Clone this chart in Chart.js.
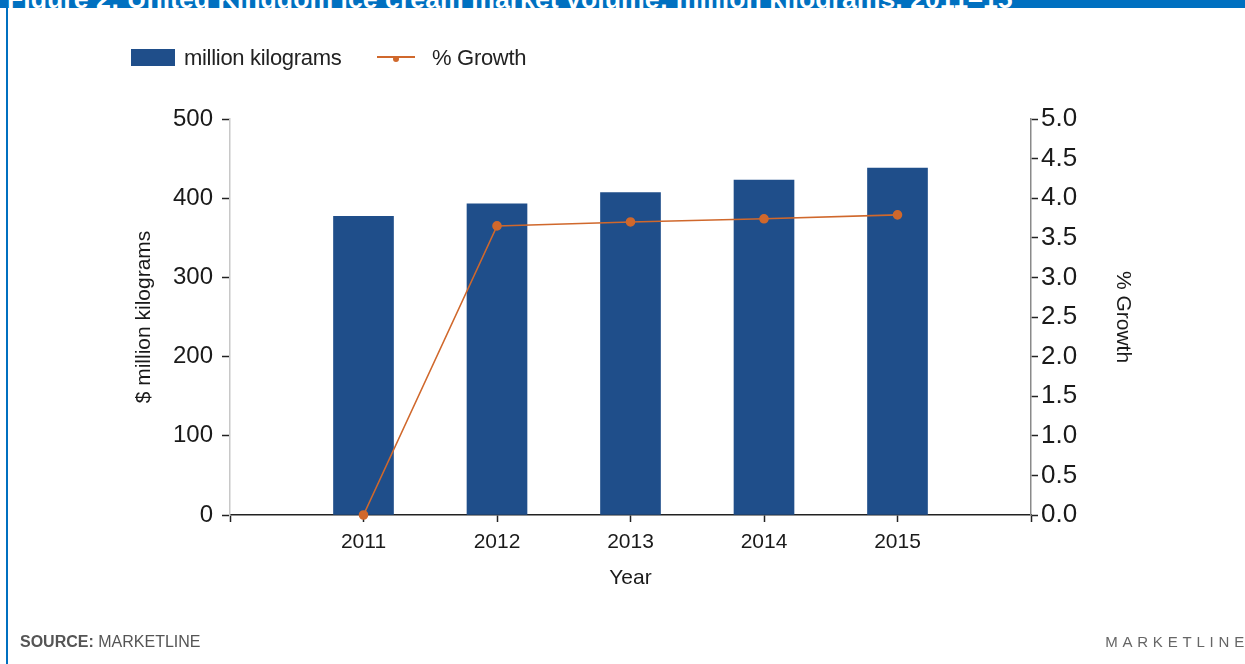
<!DOCTYPE html>
<html>
<head>
<meta charset="utf-8">
<script src="https://cdn.jsdelivr.net/npm/chart.js@4"></script>
<style>
  body { margin: 0; background: #fff; font-family: "Liberation Sans", Arial, sans-serif; }
  #page { position: relative; width: 1245px; height: 664px; overflow: hidden; }
  #topbar { position: absolute; left: 0; top: 0; width: 1245px; height: 8px; background: #0070c0; overflow: hidden; }
  #topbar span { position: absolute; left: 7px; top: -14px; color: #fff; font-weight: bold; font-size: 26.7px; line-height: 26px; white-space: nowrap; }
  #leftline { position: absolute; left: 6px; top: 8px; width: 2px; height: 656px; background: #0070c0; }
  #chart { position: absolute; left: 0; top: 0; }
  .leg { position: absolute; font-size: 22px; color: #222; line-height: 24px; white-space: nowrap; letter-spacing: -0.3px; }
  #source { position: absolute; left: 20px; top: 633px; font-size: 16px; color: #555; }
  #brand { position: absolute; right: -4px; top: 633px; font-size: 15px; color: #666; letter-spacing: 4.8px; }
</style>
</head>
<body>
<div id="page">
  <canvas id="chart" width="1245" height="664"></canvas>
  <div id="topbar"><span>Figure 2: United Kingdom ice cream market volume: million kilograms, 2011–15</span></div>
  <div id="leftline"></div>
  <div style="position:absolute;left:131px;top:49px;width:44px;height:17px;background:#1f4e8a"></div>
  <div class="leg" style="left:184px;top:46px">million kilograms</div>
  <div style="position:absolute;left:377px;top:56px;width:38px;height:2px;background:#d0682c"></div>
  <div style="position:absolute;left:393px;top:56px;width:6px;height:6px;border-radius:3px;background:#d0682c"></div>
  <div class="leg" style="left:432px;top:46px">% Growth</div>
  <div id="source"><b>SOURCE:</b> MARKETLINE</div>
  <div id="brand">MARKETLINE</div>
</div>
<script>
const years = ['2011', '2012', '2013', '2014', '2015'];
const volume = [377, 393, 407, 423, 438];
const growth = [0, 3.65, 3.70, 3.74, 3.79];

// empty slot at each end of the category axis, like the original
const labels = [''].concat(years, ['']);
const volData = [null].concat(volume, [null]);
const growthData = [null].concat(growth, [null]);

const ctx = document.getElementById('chart');
const chart = new Chart(ctx, {
  data: {
    labels: labels,
    datasets: [
      {
        type: 'line',
        label: '% Growth',
        data: growthData,
        yAxisID: 'y1',
        borderColor: '#d0682c',
        backgroundColor: '#d0682c',
        borderWidth: 1.6,
        pointRadius: 4,
        pointHoverRadius: 4,
        clip: false,
        order: 1
      },
      {
        type: 'bar',
        label: 'million kilograms',
        data: volData,
        yAxisID: 'y',
        backgroundColor: '#1f4e8a',
        barThickness: 60,
        order: 2
      }
    ]
  },
  options: {
    responsive: false,
    animation: false,
    layout: { padding: { left: 128, right: 106, top: 119, bottom: 69 } },
    plugins: { legend: { display: false }, tooltip: { enabled: false } },
    scales: {
      x: {
        type: 'category',
        offset: false,
        grid: { offset: false, drawOnChartArea: false, tickLength: 7, tickColor: '#222', tickWidth: 1.5 },
        border: { color: '#222', width: 1.5 },
        ticks: { color: '#1a1a1a', font: { size: 21, family: 'Liberation Sans' }, padding: 8, autoSkip: false, maxRotation: 0 },
        title: { display: true, text: 'Year', color: '#1a1a1a', font: { size: 21, family: 'Liberation Sans' }, padding: { top: 4, bottom: 4 } },
        afterFit: (s) => { s.height = 80; }
      },
      y: {
        position: 'left',
        min: 0,
        max: 500,
        grid: { drawOnChartArea: false, tickLength: 8, tickColor: '#222', tickWidth: 1.5 },
        border: { color: '#c8c8c8', width: 1.5 },
        ticks: { stepSize: 100, color: '#1a1a1a', font: { size: 24, family: 'Liberation Sans' }, padding: 9 },
        title: { display: true, text: '$ million kilograms', color: '#1a1a1a', font: { size: 21, family: 'Liberation Sans' }, padding: { top: 4, bottom: 4 } },
        afterFit: (s) => { s.width = 102; }
      },
      y1: {
        position: 'right',
        min: 0,
        max: 5,
        grid: { drawOnChartArea: false, tickLength: 7, tickColor: '#222', tickWidth: 1.5 },
        border: { color: '#8a8a8a', width: 1.5 },
        ticks: { stepSize: 0.5, color: '#1a1a1a', font: { size: 26, family: 'Liberation Sans' }, padding: 3, callback: (v) => v.toFixed(1) },
        title: { display: true, text: '% Growth', color: '#1a1a1a', font: { size: 21, family: 'Liberation Sans' }, padding: { top: 4, bottom: 4 } },
        afterFit: (s) => { s.width = 108; }
      }
    }
  }
});
</script>
</body>
</html>
